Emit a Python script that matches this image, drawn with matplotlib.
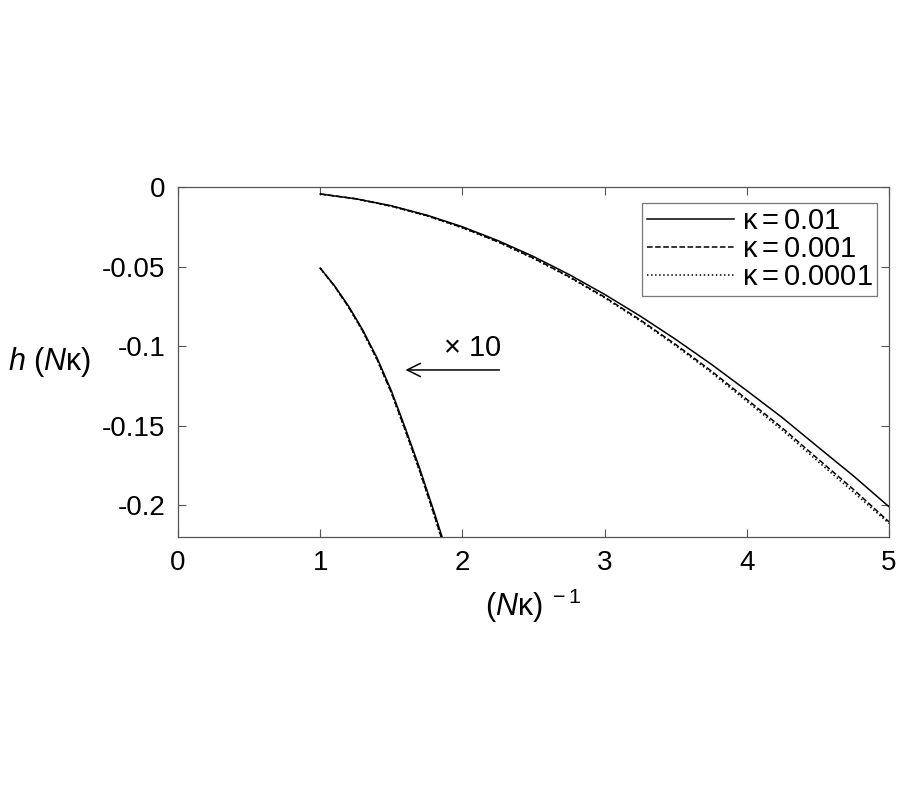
import numpy as np
import matplotlib
matplotlib.use('Agg')
import matplotlib.pyplot as plt

plt.rcParams['font.family'] = ['Liberation Sans', 'DejaVu Sans']
plt.rcParams['mathtext.fontset'] = 'custom'
plt.rcParams['mathtext.rm'] = 'Liberation Sans'
plt.rcParams['mathtext.it'] = 'Liberation Sans:italic'

# upper curves, h(N kappa) vs (N kappa)^-1
x_up = [1.0, 1.25, 1.5, 1.75, 2.0, 2.25, 2.5, 2.75, 3.0,
        3.25, 3.5, 3.75, 4.0, 4.25, 4.5, 4.75, 5.0]
h_k01 = [-0.0044, -0.0074, -0.0118, -0.0177, -0.0250, -0.0337, -0.0437, -0.0550, -0.0675,
         -0.0811, -0.0958, -0.1114, -0.1280, -0.1450, -0.1634, -0.1816, -0.2010]
h_k001 = [-0.0044, -0.0074, -0.0120, -0.0180, -0.0255, -0.0344, -0.0447, -0.0563, -0.0692,
          -0.0835, -0.0990, -0.1156, -0.1335, -0.1515, -0.1709, -0.1901, -0.2105]
h_k0001 = [-0.0044, -0.0074, -0.0121, -0.0181, -0.0257, -0.0346, -0.0450, -0.0567, -0.0697,
           -0.0841, -0.0998, -0.1166, -0.1347, -0.1529, -0.1725, -0.1918, -0.2115]

# lower curves (x 10)
x_lo = [1.0, 1.1, 1.2, 1.3, 1.4, 1.5, 1.6, 1.7, 1.8, 1.9]
h10_k01 = [-0.051, -0.062, -0.075, -0.090, -0.1075, -0.128, -0.152, -0.177, -0.204, -0.232]
h10_k001 = [-0.051, -0.0623, -0.0755, -0.0907, -0.1084, -0.1291, -0.1533, -0.1785, -0.2057, -0.2340]
h10_k0001 = [-0.051, -0.0624, -0.0757, -0.0909, -0.1087, -0.1294, -0.1537, -0.1790, -0.2062, -0.2346]

labels = [r'$\mathrm{\kappa = 0.01}$', r'$\mathrm{\kappa = 0.001}$', r'$\mathrm{\kappa = 0.0001}$']
styles = ['-', '--', ':']

fig = plt.figure(figsize=(9, 8), dpi=100)
ax = fig.add_axes([0.1978, 0.32875, 0.79, 0.4375])

for h, ls, lab in zip([h_k01, h_k001, h_k0001], styles, labels):
    ax.plot(x_up, h, color='black', linestyle=ls, linewidth=1.1, label=lab)
for h, ls in zip([h10_k01, h10_k001, h10_k0001], styles):
    ax.plot(x_lo, h, color='black', linestyle=ls, linewidth=1.1)

ax.annotate('', xy=(1.58, -0.115), xytext=(2.28, -0.115),
            arrowprops=dict(arrowstyle='->', color='black', lw=1.1,
                            mutation_scale=24))
ax.text(1.86, -0.110, r'$\mathrm{\times\ 10}$', fontsize=21, ha='left', va='bottom')

ax.set_xlim(0, 5)
ax.set_ylim(-0.22, 0)
ax.set_xticks([0, 1, 2, 3, 4, 5])
ax.set_yticks([0, -0.05, -0.1, -0.15, -0.2])
ax.set_yticklabels(['0', '-0.05', '-0.1', '-0.15', '-0.2'])
ax.tick_params(direction='in', length=6, width=0.8, colors='#555555',
               labelcolor='black', labelsize=20, top=True, right=True, pad=9)
for s in ax.spines.values():
    s.set_color('#555555')
    s.set_linewidth(0.9)

ax.set_xlabel(r'$(N\mathrm{\kappa})^{\mathrm{\ -1}}$', fontsize=22, labelpad=8)
ax.set_ylabel(r'$h\ (N\mathrm{\kappa})$', fontsize=22, rotation=0)
ax.yaxis.set_label_coords(-0.18, 0.5)
ax.yaxis.label.set_va('center')

leg = ax.legend(loc='upper right', bbox_to_anchor=(0.983, 0.955), fontsize=21,
                frameon=True, fancybox=False, handlelength=3.0, handletextpad=0.25,
                borderpad=0.15, labelspacing=0.0, borderaxespad=0.0)
leg.get_frame().set_edgecolor('#555555')
leg.get_frame().set_linewidth(0.9)

fig.savefig('out.png', dpi=100)
